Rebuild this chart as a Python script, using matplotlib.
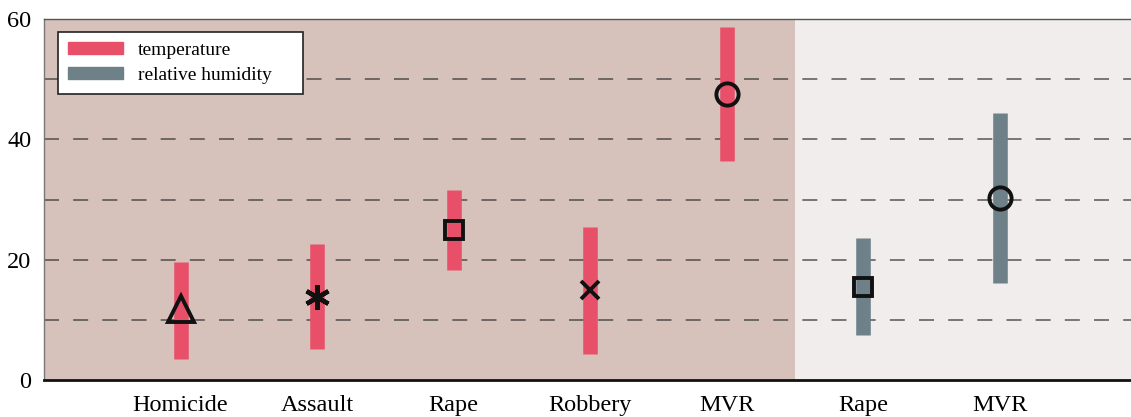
import matplotlib.pyplot as plt
from matplotlib.patches import Patch

# dane
categories = ["Homicide", "Assault", "Rape", "Robbery", "MVR", "Rape", "MVR"]
low = [3.5, 5.1, 18.3, 4.3, 36.4, 7.5, 16.1]
high = [19.6, 22.6, 31.6, 25.4, 58.6, 23.6, 44.4]
estimate = [11.8, 13.8, 24.9, 15.0, 47.5, 15.5, 30.2]
variable = ["temperature"] * 5 + ["relative humidity"] * 2
markers = ["^", "*", "s", "x", "o", "s", "o"]

colors = {"temperature": "#E8506A", "relative humidity": "#6E8088"}

plt.rcParams['font.family'] = ['Liberation Serif', 'DejaVu Serif']

fig = plt.figure(figsize=(11.31, 4.17), dpi=100)
ax = fig.add_axes([44 / 1131, 37 / 417, 1092 / 1131, 361 / 417])

pos = list(range(1, len(categories) + 1))
ax.set_xlim(0, 8)
ax.set_ylim(0, 60)

# tło dwóch części
n_temp = variable.count("temperature")
ax.axvspan(0, n_temp + 0.5, color="#D6C2BA", zorder=0, lw=0)
ax.axvspan(n_temp + 0.5, 8, color="#F1EDED", zorder=0, lw=0)

# linie przerywane
for yv in [10, 20, 30, 40, 50]:
    ax.axhline(yv, color="#333333", lw=1.2, dashes=(9, 8.5), alpha=0.75, zorder=1)

# przedziały
for x, lo, hi, v in zip(pos, low, high, variable):
    ax.vlines(x, lo, hi, color=colors[v], lw=10.5, zorder=2)

for x, est, m in zip(pos, estimate, markers):
    if m == "*":
        ax.plot(x, est, marker=(6, 2, 0), ms=18, color="#111111", mew=3.2, zorder=3)
    elif m == "x":
        ax.plot(x, est, marker="x", ms=13, color="#111111", mew=2.8, zorder=3)
    elif m == "^":
        ax.plot(x, est, marker="^", ms=19, mfc="none", mec="#111111", mew=2.8, zorder=3)
    elif m == "s":
        ax.plot(x, est, marker="s", ms=13, mfc="none", mec="#111111", mew=2.8, zorder=3)
    else:
        ax.plot(x, est, marker="o", ms=16, mfc="none", mec="#111111", mew=2.8, zorder=3)

ax.set_xticks(pos)
ax.set_xticklabels(categories, fontsize=17.5)
ax.set_yticks([0, 20, 40, 60])
ax.tick_params(axis="y", labelsize=17.5, length=0, pad=9)
ax.tick_params(axis="x", length=0, pad=11)

ax.spines["left"].set_color("#777777")
ax.spines["left"].set_linewidth(1)
ax.spines["top"].set_color("#555555")
ax.spines["top"].set_linewidth(1)
ax.spines["right"].set_visible(False)
ax.spines["bottom"].set_color("#111111")
ax.spines["bottom"].set_linewidth(2)

handles = [Patch(color=colors["temperature"], label="temperature"),
           Patch(color=colors["relative humidity"], label="relative humidity")]
leg_w = 245 / 1092
leg_h = 59 / 361
leg = ax.legend(handles=handles, loc="upper left", mode="expand",
                bbox_to_anchor=(0.0128, 0.964 - leg_h, leg_w, leg_h),
                borderaxespad=0, fontsize=14, fancybox=False, framealpha=1,
                edgecolor="#222222", handlelength=2.85, handleheight=0.6,
                borderpad=0.5, labelspacing=0.42, handletextpad=0.75)
leg.get_frame().set_linewidth(1.2)

fig.savefig("out.png", dpi=100)
